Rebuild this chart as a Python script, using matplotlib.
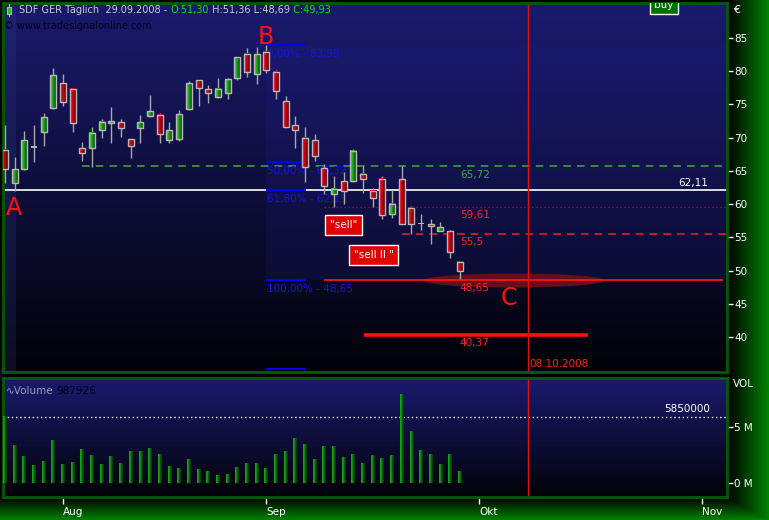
import numpy as np
import pandas as pd
import matplotlib
matplotlib.use("Agg")
import matplotlib.pyplot as plt
from matplotlib.patches import Rectangle, Ellipse
from matplotlib.transforms import offset_copy

# ---------------- data ----------------
dates = pd.bdate_range("2008-07-24", "2008-09-29")
opens  = [68.14, 63.22, 65.33, 68.55, 70.89, 74.51, 78.18, 77.28, 68.39, 68.39,
          71.10, 72.16, 72.31, 69.75, 71.51, 73.31, 73.37, 69.65, 69.85, 74.31,
          78.63, 77.28, 76.07, 76.68, 78.93, 82.55, 79.54, 82.85, 79.84, 75.47,
          71.86, 70.00, 69.60, 65.38, 61.47, 63.43, 63.43, 64.49, 61.93, 63.73,
          58.46, 63.73, 59.37, 57.11, 56.96, 55.90, 55.90, 51.30]
highs  = [71.90, 67.09, 71.00, 71.90, 73.76, 80.48, 79.58, 77.30, 69.35, 71.56,
          72.76, 74.61, 72.76, 69.80, 73.41, 76.42, 73.67, 72.36, 74.16, 78.58,
          78.70, 77.93, 79.03, 79.03, 82.10, 83.45, 83.60, 83.99, 80.14, 76.23,
          73.22, 71.56, 70.50, 65.98, 64.19, 64.80, 68.25, 65.69, 62.38, 64.19,
          62.08, 65.73, 59.67, 58.46, 57.71, 57.26, 56.05, 51.36]
lows   = [63.20, 62.00, 65.13, 66.40, 68.79, 74.31, 74.81, 70.89, 66.53, 65.53,
          70.00, 69.24, 70.10, 66.99, 69.15, 73.06, 69.24, 69.15, 69.55, 74.16,
          74.81, 75.27, 76.00, 75.82, 78.68, 79.08, 78.03, 79.69, 75.77, 71.41,
          68.39, 63.37, 66.44, 61.47, 59.52, 59.97, 63.28, 61.63, 59.52, 57.71,
          57.86, 56.96, 55.45, 56.05, 53.95, 55.90, 51.84, 48.69]
closes = [65.24, 65.28, 69.65, 68.65, 73.06, 79.38, 75.42, 72.16, 67.64, 70.67,
          72.31, 72.46, 71.51, 68.79, 72.31, 73.97, 70.51, 71.15, 73.56, 78.18,
          77.43, 76.68, 77.28, 78.78, 82.09, 79.84, 82.55, 80.14, 76.98, 71.66,
          71.11, 65.53, 67.20, 62.68, 62.23, 61.93, 67.95, 63.73, 60.87, 58.31,
          59.97, 56.96, 56.96, 57.11, 56.66, 56.50, 52.74, 49.93]
volumes_m = [5.95, 3.36, 2.38, 1.58, 1.93, 3.81, 1.67, 1.85, 3.00, 2.47,
             1.67, 2.38, 1.76, 2.83, 2.83, 3.10, 2.56, 1.49, 1.31, 2.11,
             1.22, 1.04, 0.68, 0.77, 1.40, 1.76, 1.76, 1.31, 2.56, 2.83,
             3.99, 3.45, 2.11, 3.27, 3.27, 2.29, 2.56, 1.76, 2.47, 2.20,
             2.47, 7.92, 4.61, 2.92, 2.56, 1.67, 2.56, 0.987926]

month_labels = ["Aug", "Sep", "Okt", "Nov"]
month_starts = ["2008-08-01", "2008-09-01", "2008-10-01", "2008-11-03"]
price_ticks = [40, 45, 50, 55, 60, 65, 70, 75, 80, 85]
vol_ticks = [0, 5]
vol_tick_labels = ["0 M", "5 M"]

fib_pcts = ["0,00%", "50,00%", "61,80%", "100,00%", "138,20%"]
fib_levels = [83.99, 66.32, 62.15, 48.65, 35.15]
support_62 = 62.11
level_green = 65.72
level_dotted = 59.61
level_dashed = 55.5
level_target = 48.65
level_deep = 40.37
vol_ref = 5850000
event_date = "2008-10-08"

# ---------------- helpers ----------------
W, H = 769, 520
all_days = pd.bdate_range("2008-07-24", "2008-11-14")
def day_index(d):
    return int(all_days.get_loc(pd.Timestamp(d)))

def fmt(v, nd=2):
    return f"{v:.{nd}f}".replace(".", ",")

x = np.arange(len(dates))
event_x = day_index(event_date)
month_pos = [day_index(d) for d in month_starts]

fig = plt.figure(figsize=(W / 100, H / 100), dpi=100)
fig.patch.set_facecolor("black")

# figure background: green strips
bg = fig.add_axes([0, 0, 1, 1])
bg.axis("off")
xs = np.arange(W)
ys = np.arange(H)
hx = np.clip((xs - 727) / 42.0, 0, 1)
vy = np.clip((ys - 497) / 23.0, 0, 1)
g = np.maximum(hx[None, :], vy[:, None])
img = np.zeros((H, W, 3))
img[..., 1] = 0.52 * g
bg.imshow(img, extent=[0, 1, 0, 1], aspect="auto", origin="upper")
bg.set_xlim(0, 1)
bg.set_ylim(0, 1)

XL = (-0.2, 74.6)

def panel(top_px, bot_px):
    ax = fig.add_axes([3 / W, 1 - bot_px / H, (727 - 3) / W, (bot_px - top_px) / H])
    for s in ax.spines.values():
        s.set_color("#005c00")
        s.set_linewidth(2)
    return ax

def gradient_bg(ax, ylim, top=(26, 26, 110), bottom=(2, 2, 8)):
    n = 256
    t = np.linspace(0, 1, n)[:, None]
    c = np.array(top)[None, :] * (1 - t) + np.array(bottom)[None, :] * t
    im = (c / 255.0)[:, None, :]
    ax.imshow(im, extent=[XL[0], XL[1], ylim[0], ylim[1]], aspect="auto",
              origin="upper", zorder=0)

# ---------------- main panel ----------------
ax = panel(3, 372)
YL = (34.73, 90.27)
gradient_bg(ax, YL)

# lighter strip on far left
ax.add_patch(Rectangle((XL[0], YL[0]), 1.35, YL[1] - YL[0], fc="#3a4a9a", alpha=0.18,
                       ec="none", zorder=0.5))
# fib zone tint
ax.add_patch(Rectangle((27, fib_levels[3]), XL[1] - 27, fib_levels[0] - fib_levels[3],
                       fc="#2a2ab0", alpha=0.13, ec="none", zorder=0.6))

# ellipse target zone
ax.add_patch(Ellipse((52.6, 48.5), 18.8, 2.1, fc="#70101c", ec="none", alpha=0.9, zorder=1))

# horizontal levels
ax.hlines(support_62, XL[0], XL[1], color="white", lw=1.2, zorder=2)
ax.hlines(level_green, 8, XL[1], color="#3fae3f", lw=1.1, linestyles=(0, (5, 4)), zorder=2)
ax.hlines(level_dotted, 33, XL[1], color="#b01a1a", lw=0.9, linestyles=(0, (1, 2.2)), zorder=2)
ax.hlines(level_dashed, 41, XL[1], color="#ff1a1a", lw=1.1, linestyles=(0, (5, 4)), zorder=2)
ax.hlines(level_target, 33, 74.2, color="#ff1010", lw=1.3, zorder=2)
ax.hlines(level_deep, 37.1, 60.2, color="#ff1010", lw=2.6, zorder=2)

# level labels
lab_kw = dict(textcoords="offset pixels", fontsize=7.5, ha="left", va="center", zorder=6)
ax.annotate(fmt(level_green), (47, level_green), xytext=(0, -9), color="#3fae3f", **lab_kw)
ax.annotate(fmt(level_dotted), (47, level_dotted), xytext=(0, -8), color="#ff2020", **lab_kw)
ax.annotate(fmt(level_dashed, 1), (47, level_dashed), xytext=(0, -8), color="#ff2020", **lab_kw)
ax.annotate(fmt(level_target), (47, level_target), xytext=(0, -8), color="#ff2020", **lab_kw)
ax.annotate(fmt(level_deep), (47, level_deep), xytext=(0, -8), color="#ff2020", **lab_kw)
ax.annotate(fmt(support_62), (72.6, support_62), xytext=(0, 7), textcoords="offset pixels",
            fontsize=7.5, ha="right", va="center", color="white", zorder=6)

# fibonacci
fib_tr = offset_copy(ax.transData, fig=fig, x=0, y=-9, units="dots")
for p, lv in zip(fib_pcts, fib_levels):
    ax.hlines(lv, 27, 31.1, color="#0000ff", lw=1.5, zorder=2)
    ax.text(27.05, lv, f"{p} - {fmt(lv)}", transform=fib_tr, fontsize=7.5, ha="left",
            va="center", color="#1414e6", zorder=2.5, clip_on=True)

# vertical event line
ax.axvline(event_x, color="#e01010", lw=1, zorder=2)
ax.annotate(pd.Timestamp(event_date).strftime("%d.%m.%Y"), (event_x, YL[0]), xytext=(2, 8),
            textcoords="offset pixels", fontsize=7.5, ha="left", va="center", color="#ff2020")

# candles
bw = 0.62
ax.vlines(x, lows, highs, color="#a8a8a8", lw=1, zorder=3)
red_grad = np.array([[[0.92, 0.0, 0.08], [0.45, 0.0, 0.04]]])
green_grad = np.array([[[0.18, 0.75, 0.18], [0.05, 0.36, 0.05]]])
for xi, o, c in zip(x, opens, closes):
    lo, hi = min(o, c), max(o, c)
    if hi - lo < 0.15:
        ax.add_patch(Rectangle((xi - bw / 2, (lo + hi) / 2 - 0.12), bw, 0.24, fc="#b4b4b4",
                               ec="none", zorder=4))
        continue
    grad = green_grad if c > o else red_grad
    ax.imshow(grad, extent=[xi - bw / 2, xi + bw / 2, lo, hi], aspect="auto",
              interpolation="bilinear", zorder=4)
    ax.add_patch(Rectangle((xi - bw / 2, lo), bw, hi - lo, fc="none", ec="#b8b8b8", lw=1, zorder=4.5))

# A B C labels
abc_kw = dict(fontsize=17, color="#ff1010", ha="center", va="center", zorder=7)
ax.text(0.93, 59.4, "A", **abc_kw)
ax.text(26.96, 85.15, "B", **abc_kw)
ax.text(52.07, 45.87, "C", **abc_kw)

# signal boxes
ax.text(35.0, 56.85, '"sell"', fontsize=7.5, color="white", ha="center", va="center", zorder=8,
        bbox=dict(boxstyle="square,pad=0.45", fc="#e00000", ec="white", lw=1))
ax.text(38.1, 52.34, '"sell II "', fontsize=7.5, color="white", ha="center", va="center", zorder=8,
        bbox=dict(boxstyle="square,pad=0.45", fc="#e00000", ec="white", lw=1))
tb = ax.text(68.1, 90.0, "buy", fontsize=7.5, color="white", ha="center", va="center", zorder=8,
             bbox=dict(boxstyle="square,pad=0.4", fc="#007000", ec="white", lw=1))
tb.set_clip_on(True)

ax.set_xlim(*XL)
ax.set_ylim(*YL)
ax.yaxis.tick_right()
ax.set_yticks(price_ticks)
ax.set_yticklabels([str(v) for v in price_ticks])
ax.tick_params(axis="y", colors="white", labelsize=7.5, length=4, width=1, pad=1, direction="out")
ax.set_xticks([])

# ---------------- volume panel ----------------
av = panel(378, 497)
VL = (-1.25, 9.375)
gradient_bg(av, VL)
vw = 0.4
vol_grad = np.array([[[0.10, 0.62, 0.10], [0.03, 0.25, 0.03]]])
for xi, v in zip(x, volumes_m):
    av.imshow(vol_grad, extent=[xi - vw / 2, xi + vw / 2, 0, v], aspect="auto",
              interpolation="bilinear", zorder=3)
av.axhline(vol_ref / 1e6, color="white", lw=1, linestyle=(0, (1, 2)), zorder=2)
av.annotate(str(vol_ref), (72.8, vol_ref / 1e6), xytext=(0, 8), textcoords="offset pixels",
            fontsize=7.5, ha="right", va="center", color="white")
av.axvline(event_x, color="#e01010", lw=1, zorder=2)
renderer = fig.canvas.get_renderer()
tv = av.text(0.004, 0.93, "∿Volume", transform=av.transAxes,
             fontsize=7.5, color="#9a9ab8", ha="left", va="top", zorder=6)
wv = tv.get_window_extent(renderer).width + 3
av.text(0.004 + wv / 724.0, 0.93, str(int(round(volumes_m[-1] * 1e6))), transform=av.transAxes,
        fontsize=7.5, color="#000020", ha="left", va="top", zorder=6)
av.set_xlim(*XL)
av.set_ylim(*VL)
av.yaxis.tick_right()
av.set_yticks(vol_ticks)
av.set_yticklabels(vol_tick_labels)
av.tick_params(axis="y", colors="white", labelsize=7.5, length=4, width=1, pad=1, direction="out")
av.set_xticks(month_pos)
av.set_xticklabels(month_labels)
av.tick_params(axis="x", colors="white", labelsize=7.5, length=5, width=1, pad=2, direction="out")
for lbl in av.get_xticklabels():
    lbl.set_ha("left")

# ---------------- header texts ----------------
fig.text(733 / W, 1 - 10 / H, "€", color="white", fontsize=8, ha="left", va="center")
fig.text(733 / W, 1 - 384 / H, "VOL", color="white", fontsize=7.5, ha="left", va="center")

# header icon: small green candle
fig.add_artist(Rectangle((7 / W, 1 - 14 / H), 4 / W, 7 / H, transform=fig.transFigure,
                         fc="#20c020", ec="#b0b0b0", lw=0.8, zorder=10))
fig.add_artist(plt.Line2D([9 / W, 9 / W], [1 - 16 / H, 1 - 4 / H], transform=fig.transFigure,
                          color="#b0b0b0", lw=0.8, zorder=9))

gray = "#c8c8c8"
lime = "#00e600"
parts = [("SDF GER Täglich  " + dates[-1].strftime("%d.%m.%Y") + " - ", gray),
         ("O:" + fmt(opens[-1]), lime),
         (" H:" + fmt(highs[-1]) + " L:" + fmt(lows[-1]), gray),
         (" C:" + fmt(closes[-1]), lime)]
cx = 19
for s, col in parts:
    t = fig.text(cx / W, 1 - 10 / H, s, color=col, fontsize=7, ha="left", va="center", zorder=10)
    cx += t.get_window_extent(renderer).width
fig.text(4 / W, 1 - 26 / H, "© www.tradesignalonline.com", color="#000018", fontsize=7,
         ha="left", va="center", zorder=10)

fig.savefig("out.png", dpi=100, facecolor=fig.get_facecolor())
